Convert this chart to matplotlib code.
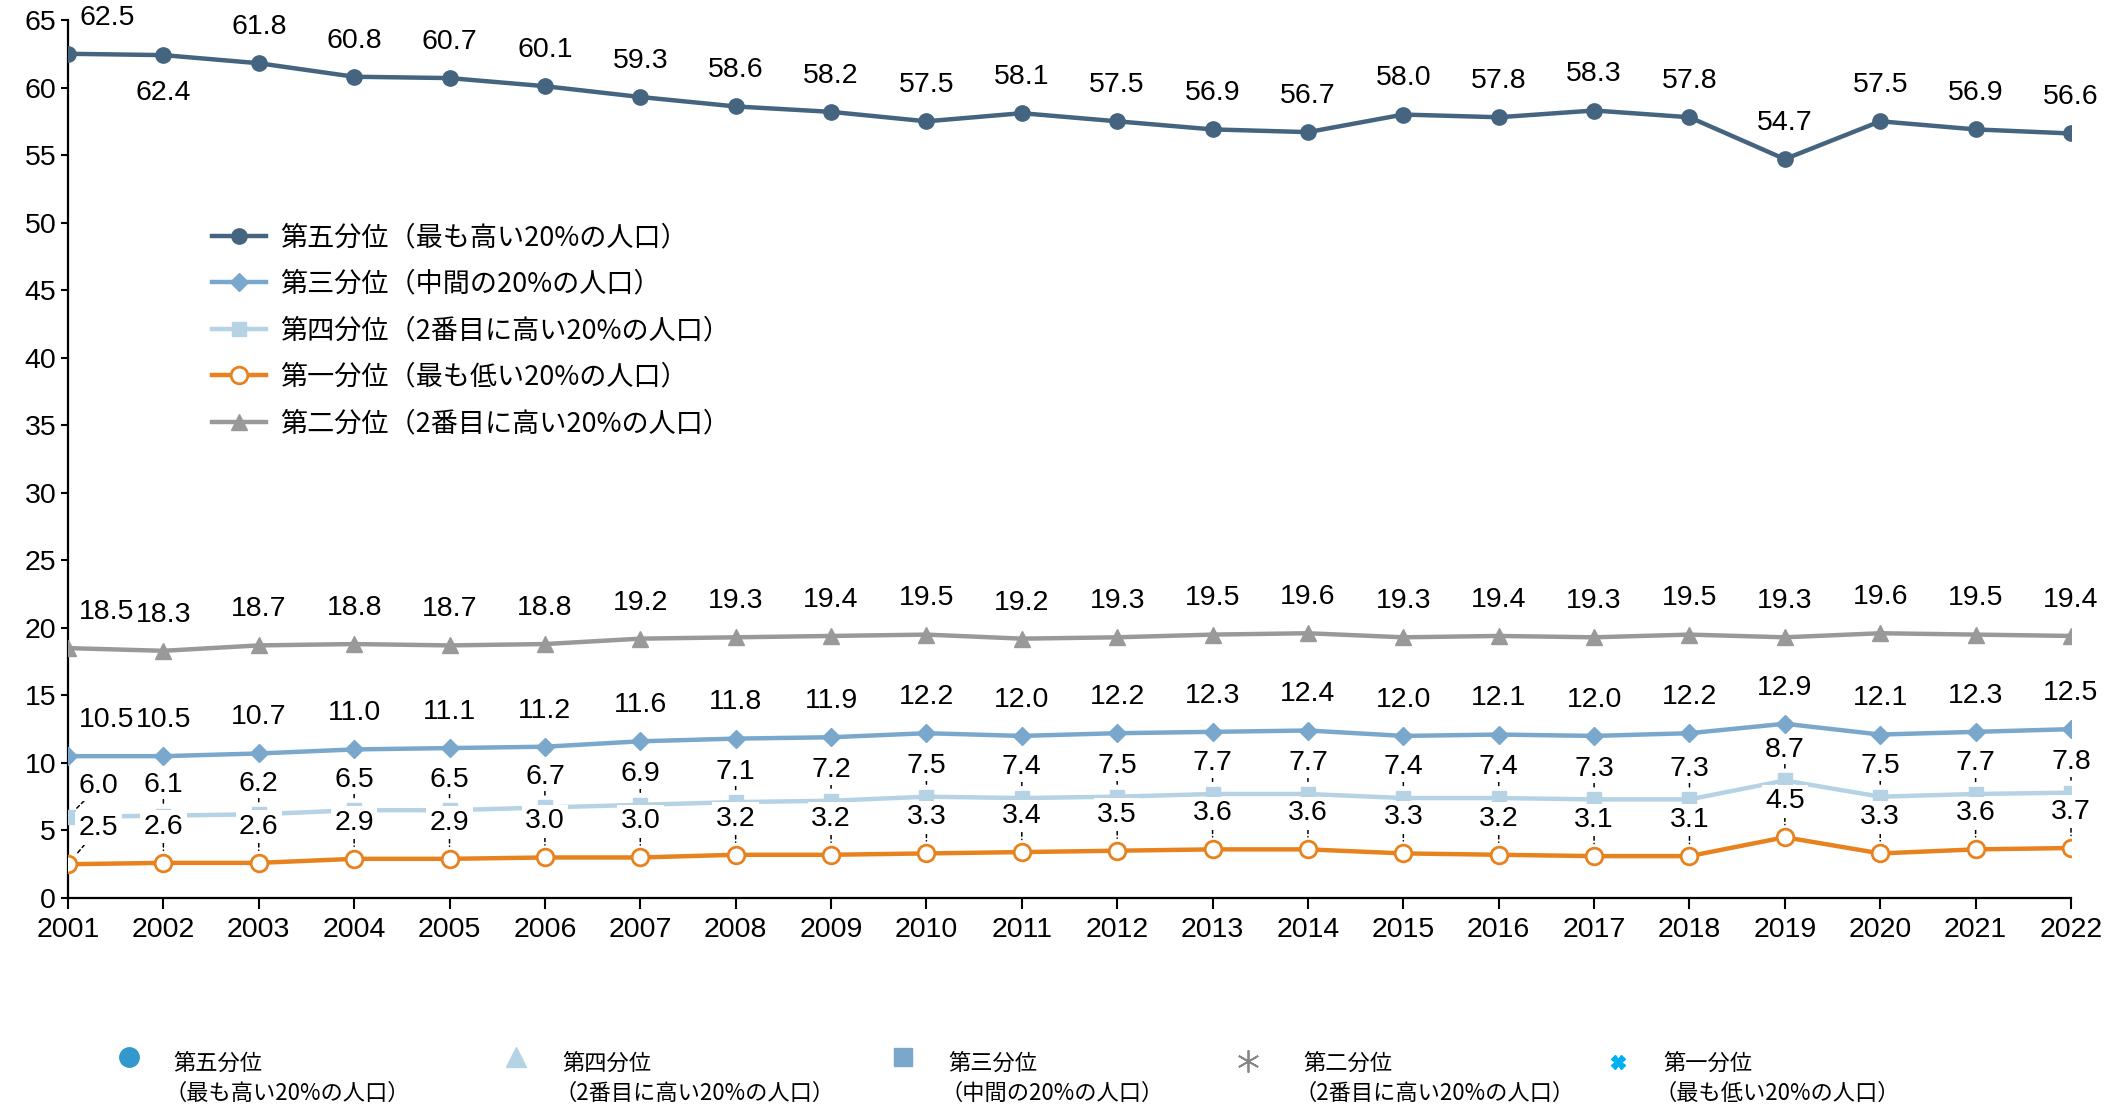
#!/usr/bin/env python3

import matplotlib
matplotlib.use('Agg')
import matplotlib.pyplot as plt

plt.rcParams['font.family'] = ['Liberation Sans', 'Noto Sans CJK JP', 'DejaVu Sans']
plt.rcParams['font.size'] = 20

years = list(range(2001, 2023))

q5 = [62.5, 62.4, 61.8, 60.8, 60.7, 60.1, 59.3, 58.6, 58.2, 57.5, 58.1,
      57.5, 56.9, 56.7, 58.0, 57.8, 58.3, 57.8, 54.7, 57.5, 56.9, 56.6]
q3 = [10.5, 10.5, 10.7, 11.0, 11.1, 11.2, 11.6, 11.8, 11.9, 12.2, 12.0,
      12.2, 12.3, 12.4, 12.0, 12.1, 12.0, 12.2, 12.9, 12.1, 12.3, 12.5]
q4 = [6.0, 6.1, 6.2, 6.5, 6.5, 6.7, 6.9, 7.1, 7.2, 7.5, 7.4,
      7.5, 7.7, 7.7, 7.4, 7.4, 7.3, 7.3, 8.7, 7.5, 7.7, 7.8]
q1 = [2.5, 2.6, 2.6, 2.9, 2.9, 3.0, 3.0, 3.2, 3.2, 3.3, 3.4,
      3.5, 3.6, 3.6, 3.3, 3.2, 3.1, 3.1, 4.5, 3.3, 3.6, 3.7]
q2 = [18.5, 18.3, 18.7, 18.8, 18.7, 18.8, 19.2, 19.3, 19.4, 19.5, 19.2,
      19.3, 19.5, 19.6, 19.3, 19.4, 19.3, 19.5, 19.3, 19.6, 19.5, 19.4]

names = ['第五分位（最も高い20%の人口）',
         '第三分位（中間の20%の人口）',
         '第四分位（2番目に高い20%の人口）',
         '第一分位（最も低い20%の人口）',
         '第二分位（2番目に高い20%の人口）']

# bottom (second) legend
leg2_titles = ['第五分位', '第四分位', '第三分位', '第二分位', '第一分位']
leg2_subs = ['（最も高い20%の人口）', '（2番目に高い20%の人口）', '（中間の20%の人口）',
             '（2番目に高い20%の人口）', '（最も低い20%の人口）']

c5 = '#44647f'
c3 = '#7aa8cc'
c4 = '#b5d3e5'
c1 = '#e8821e'
c2 = '#999999'

fig = plt.figure(figsize=(21.23, 11.08), dpi=100)
ax = fig.add_axes([68/2123, 1-898/1108, (2071-68)/2123, (898-20)/1108])

lw = 3.2
ax.plot(years, q5, color=c5, lw=lw, marker='o', ms=11, label=names[0], zorder=3)
ax.plot(years, q3, color=c3, lw=lw, marker='D', ms=9, label=names[1], zorder=3)
ax.plot(years, q4, color=c4, lw=lw, marker='s', ms=10, label=names[2], zorder=3)
ax.plot(years, q1, color=c1, lw=lw, marker='o', ms=12, mfc='white', mec=c1,
        mew=2, label=names[3], zorder=3)
ax.plot(years, q2, color=c2, lw=lw, marker='^', ms=12, label=names[4], zorder=3)

box = dict(boxstyle='square,pad=0.05', fc='white', ec='none')
box_big = dict(boxstyle='square,pad=0.12', fc='white', ec='none')
fs = 20.5


def put_labels(vals, dy, leader, first_dx, bb=box):
    for i, (x, v) in enumerate(zip(years, vals)):
        dx = first_dx if i == 0 else 0
        ap = None
        if leader:
            ap = dict(arrowstyle='-', lw=1.1, color='black', ls=(0, (2.5, 2)),
                      shrinkA=0, shrinkB=9)
        ax.annotate(f'{v:.1f}', (x, v), xytext=(dx, dy), textcoords='offset points',
                    ha='center', va='center', fontsize=fs, bbox=bb,
                    arrowprops=ap, zorder=5, annotation_clip=False)


# top series: 2002 label sits below the point
for i, (x, v) in enumerate(zip(years, q5)):
    dx = 28 if i == 0 else 0
    dy = -27 if i == 1 else 26
    ax.annotate(f'{v:.1f}', (x, v), xytext=(dx, dy), textcoords='offset points',
                ha='center', va='center', fontsize=fs, bbox=box, zorder=5,
                annotation_clip=False)

put_labels(q2, 26, False, 28)
put_labels(q3, 26, False, 28)
put_labels(q4, 22, True, 22)
put_labels(q1, 26, True, 22, box_big)

ax.set_xlim(2001, 2022)
ax.set_ylim(0, 65)
ax.set_xticks(years)
ax.set_yticks(range(0, 66, 5))
ax.tick_params(axis='both', labelsize=20.5, direction='out', length=8, width=1.5, color='black')
ax.tick_params(axis='y', length=5)
ax.tick_params(axis='x', pad=6)
for s in ['top', 'right']:
    ax.spines[s].set_visible(False)
for s in ['left', 'bottom']:
    ax.spines[s].set_linewidth(1.6)
    ax.spines[s].set_color('black')

leg = ax.legend(loc='upper left', bbox_to_anchor=(212/2123, 1-224/1108),
                bbox_transform=fig.transFigure, frameon=False,
                prop={'family': ['Noto Sans CJK JP'], 'size': 19.5},
                handlelength=2.0, handletextpad=0.5, labelspacing=0.72,
                borderpad=0, borderaxespad=0)

# bottom legend drawn on an overlay
ov = fig.add_axes([0, 0, 1, 1], facecolor='none')
ov.set_xlim(0, 2123)
ov.set_ylim(1108, 0)
ov.axis('off')
leg2_markers = [dict(marker='o', color='#3399cc', ms=14),
                dict(marker='^', color='#b5d3e5', ms=15),
                dict(marker='s', color='#7aa8cc', ms=13),
                dict(marker=(6, 2, 0), color='#888888', ms=16, mew=1.3),
                dict(marker='X', color='#00b0f0', ms=10)]
leg2_mx = [129, 516, 903, 1248, 1618]
leg2_my = [1057, 1057, 1057, 1061, 1062]
leg2_tx = [173, 562, 948, 1303, 1663]
for mx, my, tx, m, t, sub in zip(leg2_mx, leg2_my, leg2_tx, leg2_markers, leg2_titles, leg2_subs):
    ov.plot([mx], [my], ls='none', **m)
    ov.text(tx, 1063, t, fontsize=16, family=['Noto Sans CJK JP'], va='center', ha='left')
    ov.text(tx - 8, 1093, sub, fontsize=16, family=['Noto Sans CJK JP'], va='center', ha='left')

fig.savefig('out.png', dpi=100)
plt.close()
